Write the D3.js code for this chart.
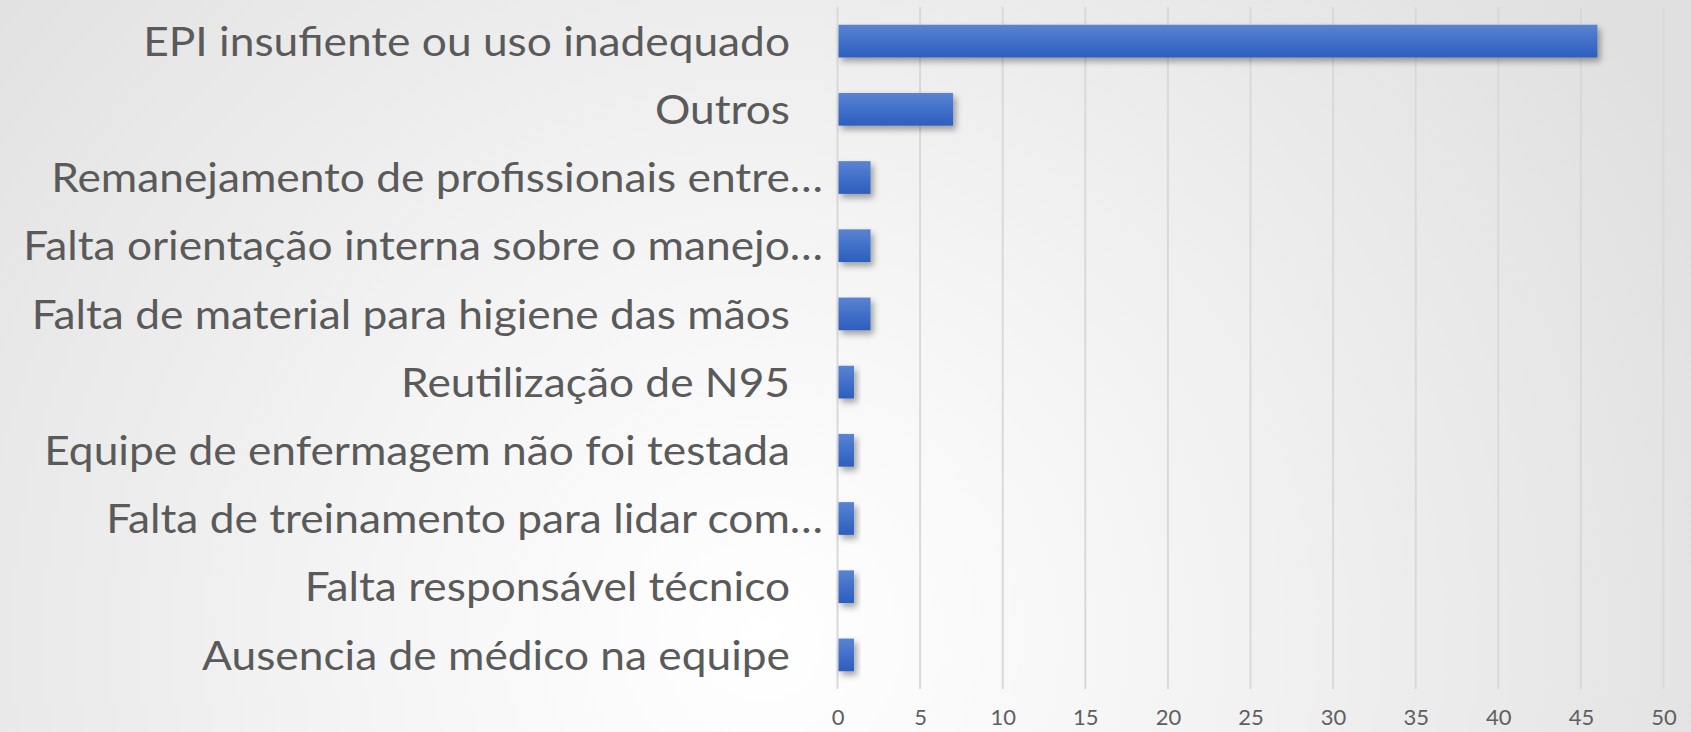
<!DOCTYPE html>
<html>
<head>
<meta charset="utf-8">
<script src="https://cdn.jsdelivr.net/npm/d3@7"></script>
<style>
  html, body { margin: 0; padding: 0; overflow: hidden; }
  body { width: 1691px; height: 732px; }
  text { font-family: Lato, "Open Sans", sans-serif; }
</style>
</head>
<body>
<script>
// chart data
var categories = [
    "EPI insufiente ou uso inadequado",
    "Outros",
    "Remanejamento de profissionais entre…",
    "Falta orientação interna sobre o manejo…",
    "Falta de material para higiene das mãos",
    "Reutilização de N95",
    "Equipe de enfermagem não foi testada",
    "Falta de treinamento para lidar com…",
    "Falta responsável técnico",
    "Ausencia de médico na equipe"
];
var values = [46, 7, 2, 2, 2, 1, 1, 1, 1, 1];
var truncated = [false, false, true, true, false, false, false, true, false, false];
var tickValues = [0, 5, 10, 15, 20, 25, 30, 35, 40, 45, 50];

window.onload = draw();

function draw(){
    var width = 1691,
        height = 732;

    var svg = d3.select("body")
        .append("svg")
        .attr("width", width)
        .attr("height", height);

    var defs = svg.append("defs");

    // slide background
    var bg = defs.append("radialGradient")
        .attr("id", "bg")
        .attr("gradientUnits", "userSpaceOnUse")
        .attr("cx", 760).attr("cy", 640)
        .attr("r", 1050);
    bg.append("stop").attr("offset", "0%").attr("stop-color", "#ffffff");
    bg.append("stop").attr("offset", "30%").attr("stop-color", "#f7f7f7");
    bg.append("stop").attr("offset", "100%").attr("stop-color", "#e0e0e0");

    // bar fill
    var barGrad = defs.append("linearGradient")
        .attr("id", "barGrad")
        .attr("x1", 0).attr("y1", 0).attr("x2", 0).attr("y2", 1);
    barGrad.append("stop").attr("offset", "0%").attr("stop-color", "#5b84d0");
    barGrad.append("stop").attr("offset", "50%").attr("stop-color", "#4170c9");
    barGrad.append("stop").attr("offset", "100%").attr("stop-color", "#2e5ebd");

    var shadow = defs.append("filter")
        .attr("id", "shadow")
        .attr("x", "-20%").attr("y", "-30%")
        .attr("width", "160%").attr("height", "180%");
    shadow.append("feDropShadow")
        .attr("dx", 3).attr("dy", 4)
        .attr("stdDeviation", 3)
        .attr("flood-color", "#000")
        .attr("flood-opacity", 0.35);

    svg.append("rect")
        .attr("width", width)
        .attr("height", height)
        .attr("fill", "url(#bg)");

    // scales
    var x = d3.scaleLinear()
        .domain([0, 50])
        .range([837.5, 1663.5]);

    var y = d3.scaleBand()
        .domain(categories)
        .range([7, 689])
        .paddingInner(0.52)
        .paddingOuter(0.26);

    // gridlines
    svg.append("g")
        .selectAll("line")
        .data(tickValues)
        .enter()
        .append("line")
        .attr("x1", function(d){ return x(d); })
        .attr("x2", function(d){ return x(d); })
        .attr("y1", 7)
        .attr("y2", 689)
        .attr("stroke", "#d9d9d9")
        .attr("stroke-width", 2);

    // bars
    svg.append("g")
        .selectAll("rect")
        .data(values)
        .enter()
        .append("rect")
        .attr("x", x(0) + 1)
        .attr("y", function(d, i){ return y(categories[i]); })
        .attr("width", function(d){ return x(d) - x(0) - 1; })
        .attr("height", y.bandwidth())
        .attr("fill", "url(#barGrad)")
        .attr("filter", "url(#shadow)");

    // x axis tick labels
    var xAxis = d3.axisBottom(x)
        .tickValues(tickValues)
        .tickSize(0)
        .tickPadding(0);

    var gx = svg.append("g")
        .attr("transform", "translate(0,709)")
        .call(xAxis);
    gx.select(".domain").remove();
    gx.selectAll("text")
        .attr("dy", "0.71em")
        .attr("fill", "#5f5f5f")
        .style("font-size", "22px")
        .style("font-weight", 400)
        .style("font-family", "Lato, 'Open Sans', sans-serif");

    // category labels (narrowed horizontally to mimic the original condensed face)
    var labels = svg.append("g")
        .selectAll("text")
        .data(categories)
        .enter()
        .append("text")
        .attr("dy", "0.36em")
        .attr("text-anchor", "end")
        .attr("fill", "#5a5a5a")
        .style("font-weight", 400)
        .style("font-size", "41px")
        .text(function(d){ return d; });

    var w = labels.filter(function(d, i){ return i === 0; }).node().getComputedTextLength();
    var sx = 647 / w;
    labels.attr("transform", function(d, i){
        var tx = truncated[i] ? 823 : 790;
        var ty = y(d) + y.bandwidth() / 2;
        return "translate(" + tx + "," + ty + ") scale(" + sx + ",1)";
    });
}
</script>
</body>
</html>
